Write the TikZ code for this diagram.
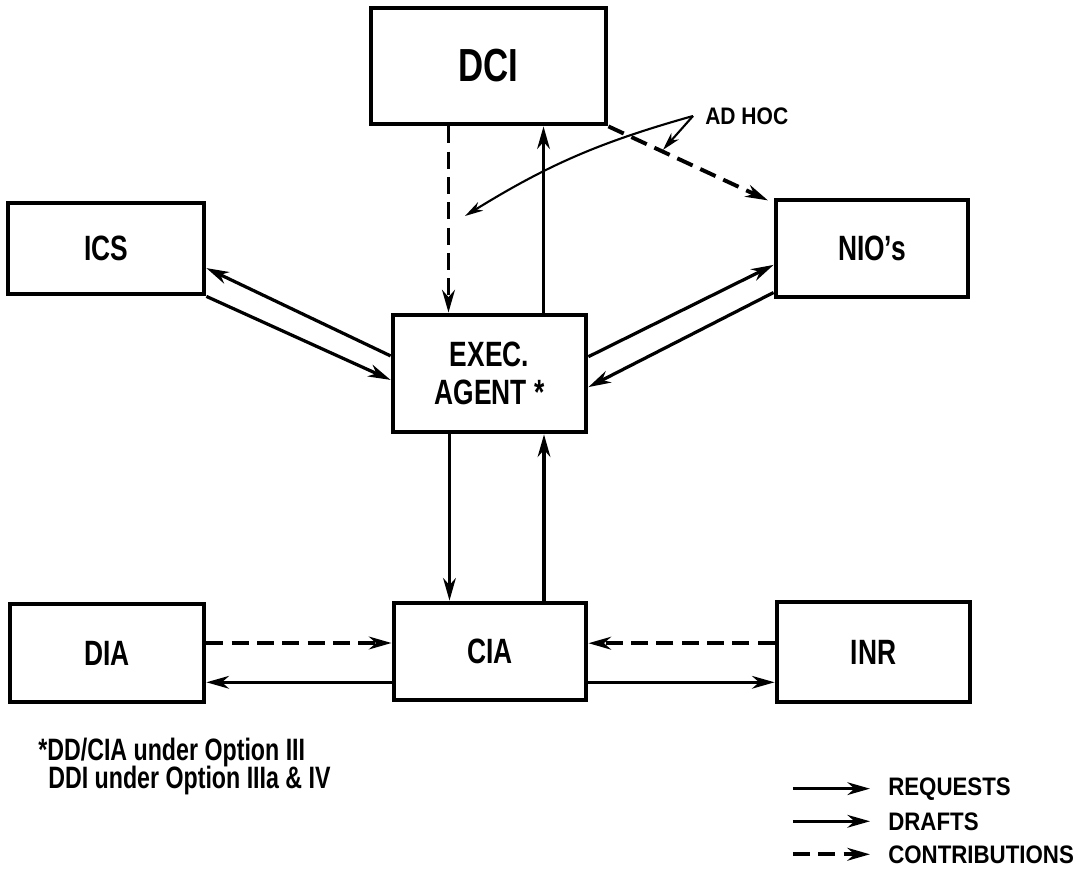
\documentclass[tikz,border=0pt]{standalone}
\usepackage{fontspec}
\setmainfont[FakeStretch=0.75]{Liberation Sans}
\newfontfamily\widefont[FakeStretch=0.88]{Liberation Sans}
\usetikzlibrary{arrows.meta,calc}
\tikzset{box/.style={draw, line width=3.4pt, inner sep=0pt,
    minimum width=4.85cm, minimum height=2.45cm, align=center,
    font=\bfseries\fontsize{25}{27}\selectfont}}
\tikzset{req/.style={line width=2.3pt, -{Stealth[length=16pt,width=9pt,inset=5pt]}}}
\tikzset{con/.style={req, line width=2.8pt, dash pattern=on 12pt off 6pt}}
\tikzset{thin arrow/.style={line width=1.5pt, -{Stealth[length=13pt,width=7pt,inset=4pt]}}}
\tikzset{note/.style={inner sep=0pt, font=\bfseries\fontsize{22}{24}\selectfont}}
\tikzset{legend/.style={inner sep=0pt, font=\widefont\bfseries\fontsize{18}{20}\selectfont}}

\begin{document}
\begin{tikzpicture}[x=0.025cm,y=-0.025cm]
    \useasboundingbox (0,0) rectangle (1081,875);
    \node[box, minimum width=5.875cm, minimum height=2.9cm,
      font=\bfseries\fontsize{33}{35}\selectfont] (dci) at (488.5,66) {DCI};
    \node[box, minimum width=4.9cm, minimum height=2.275cm] (ics) at (106,248.5) {ICS};
    \node[box, minimum width=4.8cm, minimum height=2.425cm] (nio) at (872,248.5) {NIO's};
    \node[box, minimum width=4.825cm, minimum height=2.925cm] (exec) at (489.5,373.5) {EXEC.\\AGENT *};
    \node[box] (dia) at (107,653) {DIA};
    \node[box, minimum width=4.8cm, minimum height=2.425cm] (cia) at (490,651.5) {CIA};
    \node[box, minimum width=4.825cm, minimum height=2.5cm] (inr) at (873.5,652) {INR};

    % DCI
    \draw[con] ([xshift=-1cm]dci.south) -- ([xshift=-1cm]dci.south |- exec.north);
    \draw[req] ([xshift=1.35cm]exec.north) -- ([xshift=1.35cm]exec.north |- dci.south);
    \draw[con] (dci.south east) -- ([xshift=-4pt,yshift=-2pt]nio.north west);

    \node[font=\widefont\bfseries\fontsize{17}{19}\selectfont, anchor=west, inner sep=0.3cm] (adhoc) at (693,116) {AD HOC};
    \coordinate (adhoc target) at (465,216);
    \draw[thin arrow] (adhoc.west) to[bend right=8] (adhoc target);
    \draw[thin arrow] (adhoc.west) -- ($(dci.south east)!0.33!(nio.north west)$);

    % ICS and NIO's
    \draw[req] ([yshift=0.44cm]exec.west) -- ([yshift=-0.49cm]ics.east);
    \draw[req] (ics.south east) -- ([yshift=-0.16cm]exec.west);
    \draw[req] ([yshift=0.42cm]exec.east) -- ([yshift=-0.41cm]nio.west);
    \draw[req] ([yshift=-1.1cm]nio.west) -- ([yshift=-0.34cm]exec.east);

    % CIA
    \draw[req] ([xshift=-1cm]exec.south) -- ([xshift=-1cm]exec.south |- cia.north);
    \draw[req] ([xshift=1.35cm]cia.north) -- ([xshift=1.35cm]cia.north |- exec.south);
    \draw[con] ([yshift=0.25cm]dia.east) -- ([yshift=0.25cm]dia.east -| cia.west);
    \draw[req] ([yshift=-0.77cm]cia.west) -- ([yshift=-0.77cm]cia.west -| dia.east);
    \draw[con] ([yshift=0.22cm]inr.west) -- ([yshift=0.22cm]inr.west -| cia.east);
    \draw[req] ([yshift=-0.77cm]cia.east) -- ([yshift=-0.77cm]cia.east -| inr.west);

    \node[note, anchor=base west] (note1) at (38,760) {*DD/CIA under Option III};
    \node[note, anchor=base west] (note2) at (48,788) {DDI under Option IIIa \& IV};

    % legend
    \node[legend, anchor=base west] (requests) at (888,795) {REQUESTS};
    \node[legend, anchor=base west] (drafts) at (888,830) {DRAFTS};
    \node[legend, anchor=base west] (contributions) at (888,863) {CONTRIBUTIONS};
    \draw[req] ([xshift=-2.375cm]requests.west) -- ([xshift=-0.45cm]requests.west);
    \draw[req] ([xshift=-2.375cm]drafts.west) -- ([xshift=-0.45cm]drafts.west);
    \draw[con] ([xshift=-2.375cm]contributions.west) -- ([xshift=-0.45cm]contributions.west);
  \end{tikzpicture}
\end{document}
